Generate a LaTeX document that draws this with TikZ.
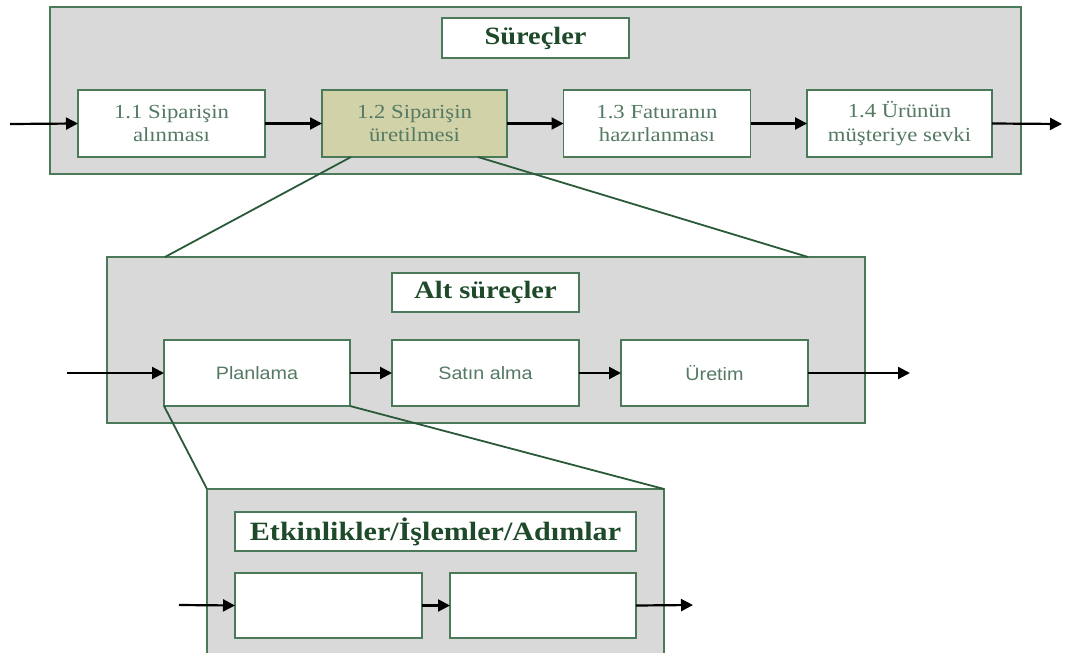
\documentclass[tikz,border=0pt]{standalone}
\usepackage{fontspec}
\setmainfont{Liberation Serif}[FakeStretch=1.14]
\newfontfamily\sansf{Liberation Sans}[FakeStretch=1.1]
\usetikzlibrary{arrows.meta,calc}

\definecolor{panelgray}{HTML}{D9D9D9}
\definecolor{edgegreen}{HTML}{4A7A5A}
\definecolor{zoomgreen}{HTML}{2A5A3A}
\definecolor{textgreen}{HTML}{557A64}
\definecolor{titlegreen}{HTML}{1E4A2A}
\definecolor{olivefill}{HTML}{D2D2A8}

\tikzset{
  panel/.style={draw=edgegreen, fill=panelgray, line width=1.6bp, inner sep=0pt, outer sep=0pt},
  titlebox/.style={draw=edgegreen, fill=white, line width=1.6bp, inner sep=0pt, outer sep=0pt,
    minimum height=39bp, font=\fontsize{25}{28}\selectfont\bfseries, text=titlegreen},
  procbox/.style={draw=edgegreen, fill=white, line width=1.6bp, inner sep=0pt, outer sep=0pt,
    minimum width=187bp, minimum height=67bp, align=center,
    font=\fontsize{20}{24}\selectfont, text=textgreen},
  subbox/.style={procbox, font=\sansf\fontsize{18}{22}\selectfont},
  flow/.style={line width=2.2bp, -{Triangle[length=12bp,width=12bp]}},
  zoomline/.style={draw=zoomgreen, line width=1.8bp}
}

\begin{document}
\begin{tikzpicture}[x=1bp, y=-1bp]
\clip (0,0) rectangle (1069,653);
\fill[white] (0,0) rectangle (1069,653);

% --- level 1: processes
\node[panel, minimum width=971bp, minimum height=167bp] (top) at (535.5,90.5) {};
\node[titlebox, minimum width=187bp, minimum height=40bp] (ttitle) at (535.5,38) {Süreçler};
\node[procbox] (t1) at (171.5,123.5) {1.1 Siparişin\\alınması};
\node[procbox, fill=olivefill, minimum width=185bp] (t2) at (414.5,123.5) {1.2 Siparişin\\üretilmesi};
\node[procbox] (t3) at (657,123.5) {1.3 Faturanın\\hazırlanması};
\node[procbox, minimum width=185bp] (t4) at (899.5,123.5) {1.4 Ürünün\\müşteriye sevki};

\coordinate (tin) at (10,124);
\coordinate (tout) at (1062,124);
\draw[flow] (tin) -- (t1.west);
\draw[flow] (t1.east) -- (t2.west);
\draw[flow] (t2.east) -- (t3.west);
\draw[flow] (t3.east) -- (t4.west);
\draw[flow] (t4.east) -- (tout);

% --- level 2: sub-processes
\node[panel, minimum width=758bp, minimum height=166bp] (mid) at (486,340) {};
\node[titlebox, minimum width=187bp] (mtitle) at (485.5,292.5) {Alt süreçler};
\node[subbox, minimum height=66bp, minimum width=186bp] (p1) at (257,373) {Planlama};
\node[subbox, minimum height=66bp] (p2) at (485.5,373) {Satın alma};
\node[subbox, minimum height=66bp] (p3) at (714.5,373) {Üretim};

\coordinate (min) at (67,373);
\coordinate (mout) at (910,373);
\draw[flow] (min) -- (p1.west);
\draw[flow] (p1.east) -- (p2.west);
\draw[flow] (p2.east) -- (p3.west);
\draw[flow] (p3.east) -- (mout);

% --- level 3: activities
\node[panel, minimum width=457bp, minimum height=230bp] (bot) at (435.5,604) {};
\node[titlebox, minimum width=401bp, font=\fontsize{26.5}{29}\selectfont\bfseries] (btitle) at (435.5,531.5) {Etkinlikler/İşlemler/Adımlar};
\node[procbox, minimum height=65bp] (b1) at (328.5,605.5) {};
\node[procbox, minimum height=65bp, minimum width=186bp] (b2) at (543,605.5) {};

\coordinate (bin) at (179,605);
\coordinate (bout) at (693,605);
\draw[flow] (bin) -- (b1.west);
\draw[flow] (b1.east) -- (b2.west);
\draw[flow] (b2.east) -- (bout);

% --- zoom lines between levels
\draw[zoomline] ([xshift=29bp]t2.south west) -- ([xshift=58bp]mid.north west);
\draw[zoomline] ([xshift=-29bp]t2.south east) -- ([xshift=-57bp]mid.north east);
\draw[zoomline] (p1.south west) -- (bot.north west);
\draw[zoomline] (p1.south east) -- (bot.north east);
\end{tikzpicture}
\end{document}
